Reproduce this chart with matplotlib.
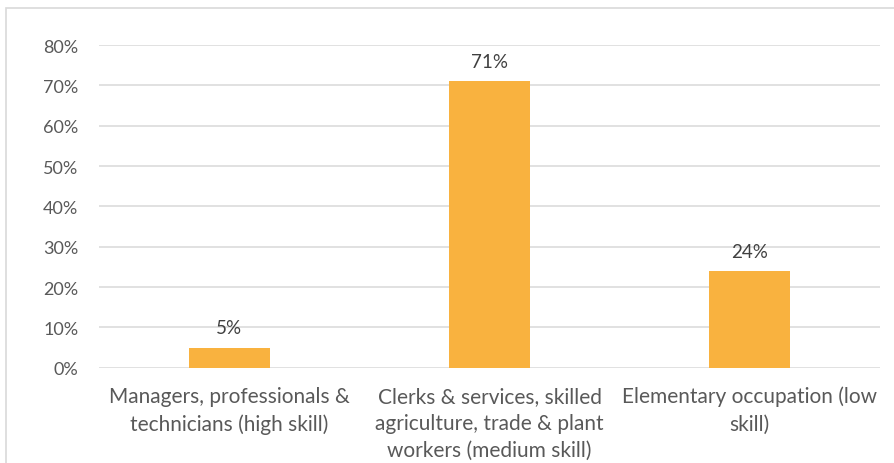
import matplotlib.pyplot as plt
from matplotlib.patches import Rectangle
from matplotlib.ticker import PercentFormatter

plt.rcParams['font.family'] = ['Lato', 'DejaVu Sans']

# udział zatrudnionych wg poziomu kwalifikacji
kategorie = [
    'Managers, professionals &\ntechnicians (high skill)',
    'Clerks & services, skilled\nagriculture, trade & plant\nworkers (medium skill)',
    'Elementary occupation (low\nskill)',
]
udzialy = [0.05, 0.71, 0.24]
etykiety = ['5%', '71%', '24%']

szary = '#595959'

fig = plt.figure(figsize=(8.94, 4.64), dpi=100)
ax = fig.add_axes([99 / 894, 95.3 / 464, 781 / 894, 322.7 / 464])

# ramka wokół wykresu (ucięta z prawej i od dołu)
fig.patches.append(Rectangle((5.5 / 894, -0.1), 1.2, (464 - 8.5) / 464 + 0.1,
                             transform=fig.transFigure, fill=False,
                             edgecolor='#D9D9D9', linewidth=1.2))

x = range(len(kategorie))
slupki = ax.bar(x, udzialy, width=0.31, color='#F9B23F', zorder=3)

for s, tekst in zip(slupki, etykiety):
    ax.annotate(tekst, (s.get_x() + s.get_width() / 2, s.get_height()),
                xytext=(0, 8), textcoords='offset points',
                ha='center', va='bottom', fontsize=13.5, color='#404040')

ax.set_xlim(-0.5, 2.5)
ax.set_ylim(0, 0.8)
ax.set_yticks([i / 10 for i in range(9)])
ax.yaxis.set_major_formatter(PercentFormatter(1.0, decimals=0))
ax.set_xticks(list(x))
ax.set_xticklabels(kategorie, fontsize=15, color=szary, linespacing=1.45)
ax.tick_params(axis='y', length=0, pad=15, labelsize=13, labelcolor=szary)
ax.tick_params(axis='x', length=0, pad=13)

ax.grid(axis='y', color='#D9D9D9', linewidth=1.1, zorder=0)
for strona in ax.spines.values():
    strona.set_visible(False)

plt.savefig('out.png', dpi=100)
